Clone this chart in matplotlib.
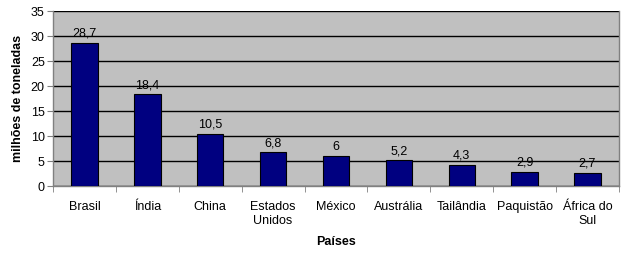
import matplotlib
matplotlib.use('Agg')
import matplotlib.pyplot as plt
import numpy as np

plt.rcParams['font.family'] = ['Liberation Sans', 'DejaVu Sans']

paises = ['Brasil', 'Índia', 'China', 'Estados\nUnidos', 'México',
          'Austrália', 'Tailândia', 'Paquistão', 'África do\nSul']
valores = [28.7, 18.4, 10.5, 6.8, 6, 5.2, 4.3, 2.9, 2.7]
rotulos = ['28,7', '18,4', '10,5', '6,8', '6', '5,2', '4,3', '2,9', '2,7']

fig = plt.figure(figsize=(6.29, 2.58), dpi=100)
ax = fig.add_axes([0.0843, 0.279, 0.8997, 0.678])
ax.set_facecolor('#c0c0c0')

x = np.arange(len(paises))
ax.bar(x, valores, width=0.42, color='#000080', edgecolor='black',
       linewidth=0.8, zorder=3)

for xi, v, r in zip(x, valores, rotulos):
    ax.text(xi, v + 0.6, r, ha='center', va='bottom', fontsize=9, zorder=4)

ax.set_ylim(0, 35)
ax.set_xlim(-0.5, len(paises) - 0.5)
ax.set_yticks(range(0, 36, 5))
ax.yaxis.grid(True, color='black', linewidth=1, zorder=1)
ax.set_axisbelow(True)

ax.set_xticks(x)
ax.set_xticklabels(paises, fontsize=9, linespacing=1.15)
ax.tick_params(axis='x', length=0, pad=11)
ax.set_xticks(np.arange(-0.5, len(paises)), minor=True)
ax.tick_params(axis='x', which='minor', length=4, color='#808080')
ax.tick_params(axis='y', labelsize=9, length=4, color='#808080', pad=2)

for s in ['left', 'bottom', 'right', 'top']:
    ax.spines[s].set_color('#808080')
    ax.spines[s].set_linewidth(1)
ax.spines['top'].set_visible(False)

ax.set_ylabel('milhões de toneladas', fontsize=9, fontweight='bold', labelpad=5)
ax.set_xlabel('Países', fontsize=9, fontweight='bold', labelpad=7)

fig.savefig('out.png', dpi=100)
